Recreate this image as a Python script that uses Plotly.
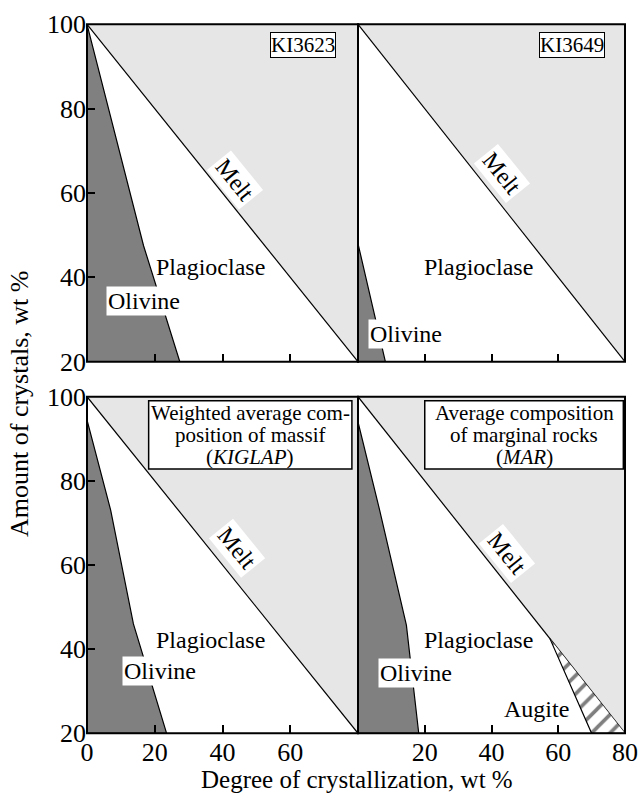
import plotly.graph_objects as go

FONT = "Liberation Serif, Times New Roman, DejaVu Serif, serif"

# ---- data ----
melt_x = [0, 80]
melt_y = [100, 20]

olivine_KI3623_x = [0, 8.8, 16.7, 27.4]
olivine_KI3623_y = [100, 72, 47.5, 20]

olivine_KI3649_x = [0, 8.2]
olivine_KI3649_y = [48, 20]

olivine_KIGLAP_x = [0, 7.0, 13.7, 23.5]
olivine_KIGLAP_y = [94.5, 73, 46, 20]

olivine_MAR_x = [0, 6.5, 14.5, 18.2]
olivine_MAR_y = [94, 73, 45.7, 20]

augite_MAR_x = [57.5, 70, 80]
augite_MAR_y = [42.5, 20, 20]

x_ticks_top = [20, 40, 60]
x_ticks_bl = [0, 20, 40, 60]
x_ticks_br = [20, 40, 60, 80]
y_ticks = [20, 40, 60, 80, 100]

panels = [
    (olivine_KI3623_x, olivine_KI3623_y),
    (olivine_KI3649_x, olivine_KI3649_y),
    (olivine_KIGLAP_x, olivine_KIGLAP_y),
    (olivine_MAR_x, olivine_MAR_y),
]

fig = go.Figure()

for i, (ox, oy) in enumerate(panels, start=1):
    xa = "x" if i == 1 else f"x{i}"
    ya = "y" if i == 1 else f"y{i}"
    fig.add_trace(go.Scatter(
        x=[melt_x[0], melt_x[1], melt_x[1]], y=[melt_y[0], melt_y[0], melt_y[1]],
        fill="toself", fillcolor="#e6e6e6", mode="lines", line=dict(width=0),
        xaxis=xa, yaxis=ya, hoverinfo="skip", showlegend=False))
    fig.add_trace(go.Scatter(
        x=ox + [0], y=oy + [melt_y[1]],
        fill="toself", fillcolor="#808080", mode="lines",
        line=dict(color="black", width=1.2),
        xaxis=xa, yaxis=ya, hoverinfo="skip", showlegend=False))
    fig.add_trace(go.Scatter(
        x=melt_x, y=melt_y, mode="lines", line=dict(color="black", width=1.2),
        xaxis=xa, yaxis=ya, hoverinfo="skip", showlegend=False))

fig.add_trace(go.Scatter(
    x=augite_MAR_x, y=augite_MAR_y, fill="toself", mode="lines",
    line=dict(color="black", width=1.2),
    fillcolor="white",
    fillpattern=dict(shape="/", fgcolor="black", bgcolor="white", size=13, solidity=0.28),
    xaxis="x4", yaxis="y4", hoverinfo="skip", showlegend=False))

W, H = 639, 794
xl = [87 / W, 358 / W]
xr = [358 / W, 625 / W]
yt = [1 - 361.7 / H, 1 - 24.3 / H]
yb = [1 - 733.3 / H, 1 - 396.7 / H]

tickfont = dict(family=FONT, size=26, color="black")


def xaxis(domain, anchor, tickvals, show):
    return dict(domain=domain, anchor=anchor, range=[0, 80], showline=False,
                ticks="inside", ticklen=8, tickwidth=1.5,
                tickcolor="black", tickvals=tickvals, ticktext=[str(v) for v in tickvals],
                showticklabels=show, showgrid=False, zeroline=False, tickfont=tickfont,
                ticklabelstandoff=1, fixedrange=True)


def yaxis(domain, anchor, show):
    return dict(domain=domain, anchor=anchor, range=[20, 100], showline=False,
                ticks="inside" if show else "",
                ticklen=8, tickwidth=1.5, tickcolor="black",
                tickvals=y_ticks, ticktext=[str(v) for v in y_ticks],
                showticklabels=show, showgrid=False, zeroline=False, tickfont=tickfont,
                fixedrange=True)


ann = []
tf = dict(family=FONT, size=24, color="black")


def add(text, x, y, ref, **kw):
    d = dict(text=text, x=x, y=y, xref="x" + ref if ref != "1" else "x",
             yref="y" + ref if ref != "1" else "y", showarrow=False, font=tf)
    d.update(kw)
    ann.append(d)


boxfont = dict(family=FONT, size=21, color="black")
add("KI3623", 63.8, 95.2, "1", bgcolor="white", bordercolor="black", borderwidth=1,
    borderpad=0, font=boxfont)
add("KI3649", 64.2, 95.2, "2", bgcolor="white", bordercolor="black", borderwidth=1,
    borderpad=0, font=boxfont)

melt_pos = [(43.7, 63.1), (43.0, 64.7), (44.2, 64.0), (44.5, 62.8)]
plag_pos = [(36.4, 42.5), (36.0, 42.5), (36.4, 42.1), (36.0, 42.1)]
oliv_pos = [(16.7, 34.4), (14.5, 26.5), (21.6, 34.8), (17.5, 34.4)]
for i in range(4):
    r = str(i + 1)
    add("Melt", melt_pos[i][0], melt_pos[i][1], r, textangle=51, bgcolor="white", borderpad=2)
    add("Plagioclase", plag_pos[i][0], plag_pos[i][1], r)
    add("Olivine", oliv_pos[i][0], oliv_pos[i][1], r, bgcolor="white", borderpad=1)
add("Augite", 53.5, 25.8, "4")

box_lines_3 = ["Weighted average com-", "position of massif", "(<i>KIGLAP</i>)"]
box_lines_4 = ["Average composition", "of marginal rocks", "(<i>MAR</i>)"]
line_y = [96.05, 90.9, 85.6]
for t, yy in zip(box_lines_3, line_y):
    add(t, 48.2, yy, "3", font=boxfont)
for t, yy in zip(box_lines_4, line_y):
    add(t, 49.75, yy, "4", font=boxfont)

shapes = [
    dict(type="rect", xref="x3", yref="y3", x0=18.2, x1=78.2, y0=82.8, y1=99.05,
         fillcolor="white", line=dict(color="black", width=1.5), layer="above"),
    dict(type="rect", xref="x4", yref="y4", x0=20.0, x1=79.5, y0=82.8, y1=99.05,
         fillcolor="white", line=dict(color="black", width=1.5), layer="above"),
]
for (dx, dy) in [(xl, yt), (xr, yt), (xl, yb), (xr, yb)]:
    shapes.append(dict(type="rect", xref="paper", yref="paper", x0=dx[0], x1=dx[1],
                       y0=dy[0], y1=dy[1], line=dict(color="black", width=2),
                       fillcolor="rgba(0,0,0,0)", layer="above"))

titlefont = dict(family=FONT, size=25, color="black")
ann.append(dict(text="Degree of crystallization, wt %", x=357 / W, y=0,
                xref="paper", yref="paper", showarrow=False, font=titlefont,
                xanchor="center", yanchor="bottom", borderpad=0))
ann.append(dict(text="Amount of crystals, wt %", x=19 / W, y=1 - 404 / H,
                xref="paper", yref="paper", showarrow=False,
                font=dict(family=FONT, size=26, color="black"),
                textangle=-90, xanchor="center", yanchor="middle"))

fig.update_layout(
    width=W, height=H, margin=dict(l=0, r=0, t=0, b=0, autoexpand=False),
    paper_bgcolor="white", plot_bgcolor="white",
    xaxis=xaxis(xl, "y", x_ticks_top, False),
    xaxis2=xaxis(xr, "y2", x_ticks_top, False),
    xaxis3=xaxis(xl, "y3", x_ticks_bl, True),
    xaxis4=xaxis(xr, "y4", x_ticks_br, True),
    yaxis=yaxis(yt, "x", True),
    yaxis2=yaxis(yt, "x2", False),
    yaxis3=yaxis(yb, "x3", True),
    yaxis4=yaxis(yb, "x4", False),
    annotations=ann, shapes=shapes, showlegend=False,
)

fig.write_html("out.html")
